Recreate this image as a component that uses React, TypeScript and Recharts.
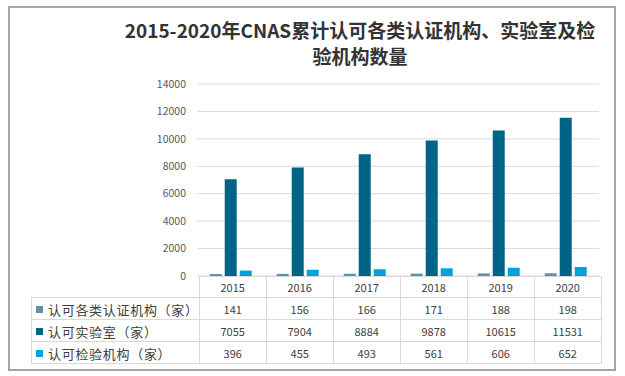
import { BarChart, Bar, YAxis, XAxis, CartesianGrid } from 'recharts';

const years = ['2015', '2016', '2017', '2018', '2019', '2020'];
const certBodies = [141, 156, 166, 171, 188, 198];
const labs = [7055, 7904, 8884, 9878, 10615, 11531];
const inspectionBodies = [396, 455, 493, 561, 606, 652];
const yTicks = [0, 2000, 4000, 6000, 8000, 10000, 12000, 14000];

const series = [
  { key: 'cert', name: '认可各类认证机构（家）', color: '#5E90A8', values: certBodies },
  { key: 'lab', name: '认可实验室（家）', color: '#006487', values: labs },
  { key: 'insp', name: '认可检验机构（家）', color: '#00A2DB', values: inspectionBodies },
];

const data = years.map((year, i) => ({
  year,
  cert: certBodies[i],
  lab: labs[i],
  insp: inspectionBodies[i],
}));

const font = '"Noto Sans CJK SC", "Noto Sans", sans-serif';
const gridColor = '#d9d9d9';
const cellBorder = `1px solid ${gridColor}`;

const numCell = {
  padding: 0,
  border: cellBorder,
  textAlign: 'center' as const,
  fontSize: 11,
  fontFamily: font,
  color: '#404040',
};

export default function App() {
  return (
    <div style={{ position: 'relative', width: 625, height: 376, background: '#fff', fontFamily: font }}>
      <style>{`body{margin:0}`}</style>
      <div
        style={{
          position: 'absolute',
          left: 8,
          top: 6,
          width: 604,
          height: 361,
          border: '2px solid #a6a6a6',
        }}
      />
      <div
        style={{
          position: 'absolute',
          left: 110,
          top: 17,
          width: 500,
          textAlign: 'center',
          fontSize: 19,
          fontWeight: 'bold',
          lineHeight: '26px',
          color: '#333',
        }}
      >
        2015-2020年CNAS累计认可各类认证机构、实验室及检
        <br />
        验机构数量
      </div>
      <div style={{ position: 'absolute', left: 0, top: 0 }}>
        <BarChart
          width={625}
          height={376}
          data={data}
          margin={{ top: 84, right: 26, left: 0, bottom: 100 }}
          barCategoryGap="19%"
          barGap={3}
        >
          <CartesianGrid vertical={false} stroke={gridColor} />
          <XAxis dataKey="year" hide />
          <YAxis
            width={197}
            domain={[0, 14000]}
            ticks={yTicks}
            axisLine={false}
            tickLine={false}
            tickMargin={5}
            tick={{ fill: '#595959', fontSize: 10.5, fontFamily: font }}
          />
          {series.map((s) => (
            <Bar key={s.key} dataKey={s.key} name={s.name} fill={s.color} isAnimationActive={false} />
          ))}
        </BarChart>
      </div>
      <table
        style={{
          position: 'absolute',
          left: 31,
          top: 276,
          borderCollapse: 'collapse',
          tableLayout: 'fixed',
          fontFamily: font,
          color: '#404040',
        }}
      >
        <tbody>
          <tr style={{ height: 21 }}>
            <td style={{ width: 165, padding: 0, borderRight: cellBorder, borderBottom: cellBorder }} />
            {years.map((y) => (
              <td key={y} style={{ ...numCell, width: 66 }}>
                {y}
              </td>
            ))}
          </tr>
          {series.map((s) => (
            <tr key={s.key} style={{ height: 22 }}>
              <td
                style={{
                  padding: 0,
                  border: cellBorder,
                  fontSize: 13,
                  fontFamily: font,
                  color: '#404040',
                  whiteSpace: 'nowrap',
                }}
              >
                <span
                  style={{
                    display: 'inline-block',
                    width: 7,
                    height: 7,
                    background: s.color,
                    marginLeft: 4,
                    marginRight: 5,
                    verticalAlign: 'middle',
                  }}
                />
                <span style={{ verticalAlign: 'middle', letterSpacing: 0.7 }}>{s.name}</span>
              </td>
              {s.values.map((v, i) => (
                <td key={i} style={numCell}>
                  {v}
                </td>
              ))}
            </tr>
          ))}
        </tbody>
      </table>
    </div>
  );
}
